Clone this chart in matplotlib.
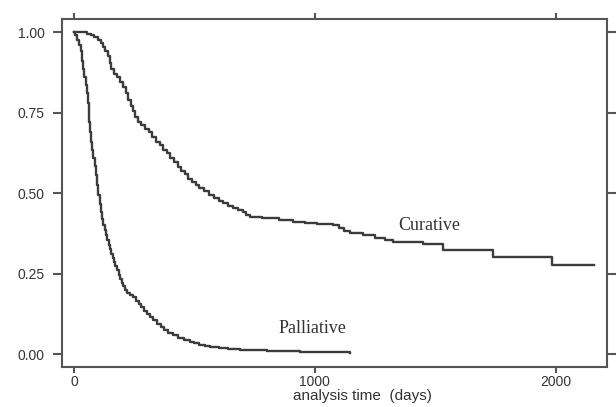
import matplotlib
matplotlib.use("Agg")
import matplotlib.pyplot as plt

# Kaplan-Meier survival estimates (days, survival)
curative_days = [0, 40, 55, 70, 85, 100, 110, 120, 130, 140, 148, 155, 165, 180, 192, 205,
                 215, 225, 235, 245, 255, 265, 280, 295, 310, 325, 340, 355, 370, 385, 400,
                 415, 430, 445, 460, 475, 490, 505, 520, 540, 560, 580, 600, 620, 640, 660,
                 680, 700, 715, 730, 780, 850, 909, 960, 1010, 1075, 1100, 1120, 1145, 1200,
                 1250, 1290, 1324, 1450, 1531, 1739, 1983, 2160]
curative_surv = [1.0, 1.0, 0.995, 0.99, 0.983, 0.975, 0.965, 0.955, 0.94, 0.925, 0.905,
                 0.885, 0.87, 0.86, 0.845, 0.83, 0.81, 0.79, 0.77, 0.755, 0.735, 0.72, 0.71,
                 0.70, 0.69, 0.675, 0.66, 0.65, 0.635, 0.625, 0.61, 0.595, 0.58, 0.57, 0.56,
                 0.545, 0.535, 0.525, 0.515, 0.505, 0.495, 0.485, 0.475, 0.468, 0.46, 0.453,
                 0.447, 0.44, 0.432, 0.425, 0.422, 0.415, 0.41, 0.407, 0.404, 0.40, 0.39,
                 0.383, 0.376, 0.37, 0.362, 0.355, 0.348, 0.343, 0.323, 0.30, 0.278, 0.278]

palliative_days = [0, 5, 12, 20, 27, 33, 38, 43, 48, 53, 57, 61, 64, 67, 71, 75, 80, 86, 91,
                   96, 101, 106, 111, 116, 121, 127, 133, 139, 145, 150, 155, 160, 166, 172,
                   178, 185, 192, 198, 205, 213, 222, 232, 245, 257, 270, 280, 292, 303, 315,
                   330, 345, 360, 375, 390, 410, 430, 455, 481, 500, 520, 545, 564, 600, 640,
                   690, 730, 800, 870, 938, 1050, 1145]
palliative_surv = [1.0, 0.99, 0.975, 0.96, 0.94, 0.91, 0.885, 0.86, 0.835, 0.81, 0.78, 0.75,
                   0.72, 0.69, 0.66, 0.635, 0.61, 0.585, 0.555, 0.525, 0.495, 0.465, 0.44,
                   0.42, 0.40, 0.385, 0.37, 0.355, 0.34, 0.325, 0.31, 0.297, 0.285, 0.272,
                   0.26, 0.247, 0.234, 0.222, 0.21, 0.20, 0.19, 0.183, 0.177, 0.165, 0.155,
                   0.145, 0.135, 0.125, 0.115, 0.105, 0.095, 0.085, 0.075, 0.067, 0.058, 0.05,
                   0.043, 0.037, 0.033, 0.029, 0.025, 0.022, 0.019, 0.016, 0.014, 0.012, 0.01,
                   0.009, 0.007, 0.005, 0.004]

y_ticks = [0.0, 0.25, 0.5, 0.75, 1.0]
y_ticklabels = ["0.00", "0.25", "0.50", "0.75", "1.00"]
x_ticks = [0, 1000, 2000]

line_col = "#3c3c3c"
frame_col = "#555555"

fig = plt.figure(figsize=(6.16, 4.07), dpi=100)
ax = fig.add_axes([0.1006, 0.0983, 0.8844, 0.8547])

ax.plot(curative_days, curative_surv, drawstyle="steps-post", color=line_col, lw=1.7)
ax.plot(palliative_days, palliative_surv, drawstyle="steps-post", color=line_col, lw=1.7)

ax.text(1477, 0.398, "Curative", family="Liberation Serif", fontsize=13,
        color="#333333", ha="center", va="center")
ax.text(988, 0.081, "Palliative", family="Liberation Serif", fontsize=13,
        color="#333333", ha="center", va="center")

ax.set_xlim(-50, 2212)
ax.set_ylim(-0.04, 1.04)
ax.set_xticks(x_ticks)
ax.set_xticklabels([str(t) for t in x_ticks])
ax.set_yticks(y_ticks)
ax.set_yticklabels(y_ticklabels)

for s in ax.spines.values():
    s.set_color(frame_col)
    s.set_linewidth(1.5)

ax.tick_params(axis="both", direction="out", width=1.5, color=frame_col,
               labelsize=10, labelcolor="#333333")
ax.tick_params(axis="y", right=True, length=6.5, pad=6)
ax.tick_params(axis="x", top=True, length=4.5, pad=1.5)

for lab in ax.get_xticklabels() + ax.get_yticklabels():
    lab.set_family("Liberation Sans")

ax.set_xlabel("analysis time  (days)", family="Liberation Sans", fontsize=11,
              color="#333333")
ax.xaxis.set_label_coords(0.552, -0.062)

fig.savefig("out.png", dpi=100, facecolor="white")
